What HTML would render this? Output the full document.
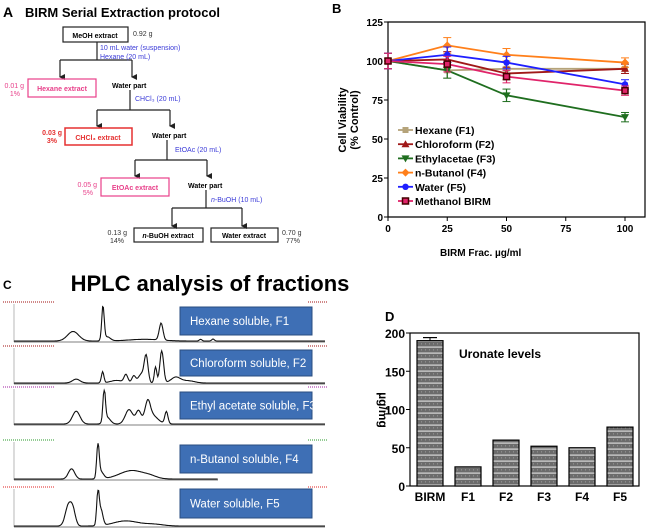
<!DOCTYPE html>
<html><head><meta charset="utf-8"><style>
body{margin:0;background:#fff;width:650px;height:530px;overflow:hidden;font-family:"Liberation Sans",Arial,sans-serif}
svg{position:absolute;left:0;top:0}
</style></head><body>
<svg width="650" height="530" viewBox="0 0 650 530" font-family="Liberation Sans, Arial, sans-serif">
<defs>
<marker id="ar" markerWidth="6" markerHeight="6" refX="3" refY="5" orient="auto" markerUnits="userSpaceOnUse"><path d="M0,0 L6,0 L3,6 z" fill="#222"/></marker>
<pattern id="hatch" width="4" height="6" patternUnits="userSpaceOnUse"><rect width="4" height="6" fill="#6b6b6b"/><rect y="4.5" width="4" height="1.2" fill="#d8d8d8"/><rect x="1" y="1.5" width="0.8" height="0.8" fill="#bbb"/></pattern>
</defs>

<!-- Panel A -->
<g font-size="7" font-weight="bold">
<text x="3" y="17" font-size="14" font-weight="bold">A</text>
<text x="25" y="17" font-size="13" font-weight="bold">BIRM Serial Extraction protocol</text>
<g stroke="#222" stroke-width="1.2" fill="none">
<rect x="63" y="27" width="65" height="15"/>
<line x1="97" y1="42" x2="97" y2="60"/><line x1="60" y1="60" x2="132" y2="60"/>
<line x1="60" y1="60" x2="60" y2="77" marker-end="url(#ar)"/><line x1="132" y1="60" x2="132" y2="77" marker-end="url(#ar)"/>
<line x1="130" y1="90" x2="130" y2="110"/><line x1="97" y1="110" x2="170" y2="110"/>
<line x1="97" y1="110" x2="97" y2="126" marker-end="url(#ar)"/><line x1="170" y1="110" x2="170" y2="126" marker-end="url(#ar)"/>
<line x1="167" y1="140" x2="167" y2="160"/><line x1="135" y1="160" x2="207" y2="160"/>
<line x1="135" y1="160" x2="135" y2="176" marker-end="url(#ar)"/><line x1="207" y1="160" x2="207" y2="176" marker-end="url(#ar)"/>
<line x1="206" y1="190" x2="206" y2="208"/><line x1="172" y1="208" x2="242" y2="208"/>
<line x1="172" y1="208" x2="172" y2="226" marker-end="url(#ar)"/><line x1="242" y1="208" x2="242" y2="226" marker-end="url(#ar)"/>
<rect x="134" y="228" width="69" height="14"/><rect x="211" y="228" width="67" height="14"/>
</g>
<rect x="28" y="79" width="68" height="18" fill="none" stroke="#e8408a" stroke-width="1.2"/>
<rect x="65" y="128" width="67" height="17" fill="none" stroke="#e53030" stroke-width="1.5"/>
<rect x="101" y="178" width="68" height="18" fill="none" stroke="#e8408a" stroke-width="1.2"/>
<text x="95" y="38" text-anchor="middle">MeOH extract</text>
<text x="133" y="36" font-weight="normal" fill="#333">0.92 g</text>
<g fill="#3b3bd8" font-weight="normal"><text x="100" y="50">10 mL water (suspension)</text><text x="100" y="59">Hexane (20 mL)</text>
<text x="135" y="101">CHCl₃ (20 mL)</text><text x="175" y="152">EtOAc (20 mL)</text><text x="211" y="202"><tspan font-style="italic">n</tspan>-BuOH (10 mL)</text></g>
<text x="62" y="91" text-anchor="middle" fill="#e8408a">Hexane extract</text>
<text x="24" y="88" text-anchor="end" fill="#e8408a" font-weight="normal">0.01 g</text><text x="20" y="96" text-anchor="end" fill="#e8408a" font-weight="normal">1%</text>
<text x="112" y="88">Water part</text>
<text x="98" y="140" text-anchor="middle" fill="#e53030">CHCl₃ extract</text>
<text x="62" y="135" text-anchor="end" fill="#e53030">0.03 g</text><text x="57" y="143" text-anchor="end" fill="#e53030">3%</text>
<text x="152" y="138">Water part</text>
<text x="135" y="190" text-anchor="middle" fill="#e8408a">EtOAc extract</text>
<text x="97" y="187" text-anchor="end" fill="#e8408a" font-weight="normal">0.05 g</text><text x="93" y="195" text-anchor="end" fill="#e8408a" font-weight="normal">5%</text>
<text x="188" y="188">Water part</text>
<text x="168" y="238" text-anchor="middle"><tspan font-style="italic">n</tspan>-BuOH extract</text>
<text x="244" y="238" text-anchor="middle">Water extract</text>
<g font-weight="normal" fill="#333"><text x="127" y="235" text-anchor="end">0.13 g</text><text x="124" y="243" text-anchor="end">14%</text>
<text x="282" y="235">0.70 g</text><text x="286" y="243">77%</text></g>
</g>

<!-- Panel B -->
<text x="332" y="13" font-size="13" font-weight="bold">B</text>
<g id="pb"></g>

<!-- Panel C -->
<text x="3" y="289" font-size="12" font-weight="bold">C</text>
<text x="210" y="291" font-size="22" font-weight="bold" text-anchor="middle">HPLC analysis of fractions</text>
<g id="pc"></g>

<!-- Panel D -->
<text x="385" y="321" font-size="13" font-weight="bold">D</text>
<g id="pd"></g>
</svg>
<script>
// Panel B data
const doses=[0,25,50,100];
const seriesNames=["Hexane (F1)","Chloroform (F2)","Ethylacetae (F3)","n-Butanol (F4)","Water  (F5)","Methanol BIRM"];
const hexane=[100,94,95,95];
const chloroform=[100,101,92,95];
const ethyl=[100,94,78,64];
const butanol=[100,110,104,99];
const water=[100,104,99,85];
const methanol=[100,98,90,81];
const errs=[5,5,4,3];
const yTicks=[0,25,50,75,100,125];
const xTicks=[0,25,50,75,100];
// Panel D data
const uCats=["BIRM","F1","F2","F3","F4","F5"];
const uVals=[190,25,60,52,50,77];
const uErr=[4,0,0,0,0,0];
const uTicks=[0,50,100,150,200];

const NS="http://www.w3.org/2000/svg";
function mk(p,t,a,txt){const e=document.createElementNS(NS,t);for(const k in a)e.setAttribute(k,a[k]);if(txt!=null)e.textContent=txt;p.appendChild(e);return e;}

// ---- B
(function(){
const g=document.getElementById('pb');
const X=v=>388+v*(625-388)/100, Y=v=>217-v*(217-22)/125;
const ax=mk(g,'path',{d:`M388,22 L645,22 L645,217 L388,217 Z`,fill:'none',stroke:'#000','stroke-width':1.2});


yTicks.forEach(t=>{mk(g,'line',{x1:384,x2:388,y1:Y(t),y2:Y(t),stroke:'#000'});
const l=mk(g,'text',{x:383,y:Y(t)+4,'text-anchor':'end','font-size':10,'font-weight':'bold'},t);

});
xTicks.forEach(t=>{mk(g,'line',{x1:X(t),x2:X(t),y1:217,y2:221,stroke:'#000'});
const l=mk(g,'text',{x:X(t),y:232,'text-anchor':'middle','font-size':10,'font-weight':'bold'},t);

});
const xt=mk(g,'text',{x:440,y:256,'font-size':10,'font-weight':'bold'},'BIRM Frac. µg/ml');


const yt=mk(g,'text',{transform:'translate(346,120) rotate(-90)','text-anchor':'middle','font-size':11,'font-weight':'bold'});


mk(yt,'tspan',{x:0,y:0},'Cell Viability');mk(yt,'tspan',{x:0,y:12},'(% Control)');
const all=[hexane,chloroform,ethyl,butanol,water,methanol];
const cols=["#b5a37a","#a01818","#1f6e1f","#ff7f1a","#1f1fff","#e0246a"];
const marks=["sq","tri","itri","dia","dot","osq"];
function marker(p,x,y,m,c){
 if(m=='sq')return mk(p,'rect',{x:x-3,y:y-3,width:6,height:6,fill:c});
 if(m=='tri')return mk(p,'path',{d:`M${x},${y-4}L${x+4},${y+3}L${x-4},${y+3}Z`,fill:c});
 if(m=='itri')return mk(p,'path',{d:`M${x},${y+4}L${x+4},${y-3}L${x-4},${y-3}Z`,fill:c});
 if(m=='dia')return mk(p,'path',{d:`M${x},${y-4}L${x+4},${y}L${x},${y+4}L${x-4},${y}Z`,fill:c});
 if(m=='dot')return mk(p,'circle',{cx:x,cy:y,r:3.2,fill:c});
 return mk(p,'rect',{x:x-3,y:y-3,width:6,height:6,fill:c,stroke:'#400','stroke-width':1.5});
}
all.forEach((s,i)=>{
 const sg=mk(g,'g',{});
 
 
 s.forEach((v,j)=>{mk(sg,'line',{x1:X(doses[j]),x2:X(doses[j]),y1:Y(v+errs[j]),y2:Y(v-errs[j]),stroke:cols[i],'stroke-width':1.2});
  mk(sg,'line',{x1:X(doses[j])-4,x2:X(doses[j])+4,y1:Y(v+errs[j]),y2:Y(v+errs[j]),stroke:cols[i]});
  mk(sg,'line',{x1:X(doses[j])-4,x2:X(doses[j])+4,y1:Y(v-errs[j]),y2:Y(v-errs[j]),stroke:cols[i]});});
 mk(sg,'polyline',{points:s.map((v,j)=>X(doses[j])+','+Y(v)).join(' '),fill:'none',stroke:cols[i],'stroke-width':1.8});
 s.forEach((v,j)=>marker(sg,X(doses[j]),Y(v),marks[i],cols[i]));
 const ly=130+i*14.2;
 const lg=mk(g,'g',{});
 
 
 mk(lg,'line',{x1:398,x2:413,y1:ly,y2:ly,stroke:cols[i],'stroke-width':1.8});
 marker(lg,405.5,ly,marks[i],cols[i]);
 mk(lg,'text',{x:415,y:ly+4,'font-size':10.5,'font-weight':'bold'},seriesNames[i]);
});
})();

// ---- C  (chromatogram peaks: [position 0..1, height 0..1, width])
const hplcNames=["Hexane  soluble,  F1","Chloroform soluble, F2","Ethyl acetate soluble, F3","n-Butanol soluble, F4","Water soluble, F5"];
const peaksF1=[[0.19,0.28,0.018],[0.286,1,0.004],[0.3,0.12,0.01],[0.42,0.05,0.05],[0.473,0.5,0.006],[0.6,0.05,0.004],[0.64,0.06,0.004]];
const peaksF2=[[0.2,0.12,0.012],[0.285,0.35,0.004],[0.33,0.08,0.02],[0.36,0.25,0.006],[0.385,0.22,0.006],[0.41,0.28,0.01],[0.425,0.8,0.006],[0.455,0.5,0.004],[0.475,1,0.006],[0.52,0.18,0.015],[0.56,0.07,0.02]];
const peaksF3=[[0.2,0.4,0.012],[0.29,1,0.004],[0.3,0.2,0.01],[0.37,0.45,0.012],[0.4,0.37,0.008],[0.43,0.5,0.008],[0.44,0.3,0.02],[0.49,0.38,0.005]];
const peaksF4=[[0.185,0.3,0.01],[0.27,1,0.004],[0.28,0.2,0.008],[0.38,0.25,0.04],[0.44,0.05,0.02]];
const peaksF5=[[0.175,0.6,0.01],[0.19,0.4,0.008],[0.27,1,0.004],[0.28,0.45,0.006],[0.36,0.15,0.04],[0.45,0.05,0.03]];
(function(){
const g=document.getElementById('pc');
const rows=[{b:342,h:38,x0:14,x1:325,pk:peaksF1,box:307,bh:28,c:'#a01010'},{b:384,h:36,x0:14,x1:325,pk:peaksF2,box:350,bh:26,c:'#a01010'},{b:425,h:36,x0:14,x1:325,pk:peaksF3,box:392,bh:27,c:'#a020a0'},{b:480,h:38,x0:14,x1:218,pk:peaksF4,box:445,bh:28,c:'#2a9a2a'},{b:527,h:38,x0:14,x1:325,pk:peaksF5,box:489,bh:29,c:'#e02020'}];
rows.forEach((r,i)=>{
 const rg=mk(g,'g',{});
 
 
 mk(rg,'line',{x1:14,x2:14,y1:r.b-r.h,y2:r.b,stroke:'#888','stroke-width':0.6});
 mk(rg,'line',{x1:14,x2:r.x1,y1:r.b,y2:r.b,stroke:'#555','stroke-width':0.8});
 mk(rg,'line',{x1:3,x2:55,y1:r.b-r.h-2,y2:r.b-r.h-2,stroke:r.c,'stroke-width':1,'stroke-dasharray':'1,1'});
 mk(rg,'line',{x1:308,x2:328,y1:r.b-r.h-2,y2:r.b-r.h-2,stroke:r.c,'stroke-width':1,'stroke-dasharray':'1,1'});
 const pts=[];
 for(let k=0;k<=400;k++){const t=k/400;let v=0;r.pk.forEach(p=>{v+=p[1]*Math.exp(-((t-p[0])**2)/(2*p[2]*p[2]));});
  const x=14+t*(325-14); if(x>r.x1)break; pts.push(x.toFixed(1)+','+(r.b-1-Math.min(v,1.05)*(r.h-4)).toFixed(1));}
 mk(rg,'polyline',{points:pts.join(' '),fill:'none',stroke:'#111','stroke-width':1.1});
 const bx=mk(g,'rect',{x:180,y:r.box,width:132,height:r.bh,fill:'#3e6fb5',stroke:'#2a4d80','stroke-width':1});
 
 
 mk(g,'text',{x:190,y:r.box+r.bh/2+4,fill:'#fff','font-size':11.5},hplcNames[i]);
});
})();

// ---- D
(function(){
const g=document.getElementById('pd');
const Y=v=>486-v*(486-333)/200;
const fr=mk(g,'rect',{x:410,y:333,width:229,height:153,fill:'none',stroke:'#000','stroke-width':1.2});


uTicks.forEach(t=>{mk(g,'line',{x1:406,x2:410,y1:Y(t),y2:Y(t),stroke:'#000'});
const l=mk(g,'text',{x:405,y:Y(t)+5,'text-anchor':'end','font-size':12,'font-weight':'bold'},t);

});
const yt=mk(g,'text',{transform:'translate(379,410) rotate(90)','text-anchor':'middle','font-size':12,'font-weight':'bold'},'µg/mg');


const tt=mk(g,'text',{x:459,y:358,'font-size':12,'font-weight':'bold'},'Uronate levels');


uCats.forEach((c,i)=>{
 const cx=430+i*38;
 const b=mk(g,'rect',{x:cx-13,y:Y(uVals[i]),width:26,height:486-Y(uVals[i]),fill:'url(#hatch)',stroke:'#000','stroke-width':1.2});
 
 
 if(uErr[i]){mk(g,'line',{x1:cx,x2:cx,y1:Y(uVals[i]+uErr[i]),y2:Y(uVals[i]),stroke:'#000'});
  mk(g,'line',{x1:cx-7,x2:cx+7,y1:Y(uVals[i]+uErr[i]),y2:Y(uVals[i]+uErr[i]),stroke:'#000','stroke-width':1.2});}
 const l=mk(g,'text',{x:cx,y:501,'text-anchor':'middle','font-size':12,'font-weight':'bold'},c);
 
 
});
})();
</script>
</body></html>
